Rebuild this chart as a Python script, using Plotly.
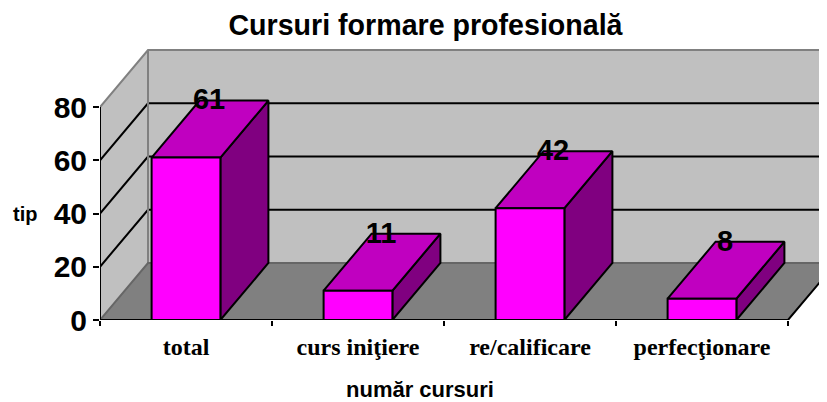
import plotly.graph_objects as go

categories = ["total", "curs iniţiere", "re/calificare", "perfecţionare"]
values = [61, 11, 42, 8]
y_ticks = [0, 20, 40, 60, 80]

title = "Cursuri formare profesională"
x_title = "număr cursuri"
y_title = "tip"

# oblique projection of the depth axis, in axis units
DX = 48 / 172
DY = 57 / 2.6625
BAR = 0.4
GAP = (1 - BAR) / 2
WALL = "#C0C0C0"; FLOOR = "#808080"; EDGE = "#808080"
FRONT = "#FF00FF"; TOP = "#C000C0"; SIDE = "#800080"
n = len(categories)
ymax = y_ticks[-1]

fig = go.Figure()


def poly(xs, ys, fill=None, line="black", w=2):
    fig.add_trace(go.Scatter(
        x=xs, y=ys, mode="lines", fill="toself" if fill else "none",
        fillcolor=fill, line=dict(color=line, width=w), cliponaxis=False,
        hoverinfo="skip", showlegend=False))


# walls and floor
poly([0, DX, DX, 0, 0], [0, DY, ymax + DY, ymax, 0], WALL, WALL, 0.5)
poly([DX, n + DX, n + DX, DX, DX], [DY, DY, ymax + DY, ymax + DY, DY], WALL, WALL, 0.5)
poly([0, n, n + DX, DX, 0], [0, 0, DY, DY, 0], FLOOR, FLOOR, 0.5)
# gridlines
for t in y_ticks[1:-1]:
    poly([0, DX, n + DX], [t, t + DY, t + DY])
# grey edges
poly([0, DX, n + DX], [ymax, ymax + DY, ymax + DY], None, EDGE, 2)
poly([DX, DX], [DY, ymax + DY], None, EDGE, 2)
poly([0, DX, n + DX], [0, DY, DY], None, "#666666", 2)
# axis edges
poly([0, 0], [0, ymax])
poly([0, n, n + DX], [0, 0, DY])

# bars
for i, v in enumerate(values):
    a, b = i + GAP, i + GAP + BAR
    poly([b, b + DX, b + DX, b, b], [0, DY, v + DY, v, 0], SIDE)
    poly([a, b, b + DX, a + DX, a], [v, v, v + DY, v + DY, v], TOP)
    poly([a, b, b, a, a], [0, 0, v, v, 0], FRONT)

# data labels
fig.add_trace(go.Scatter(
    x=[i + 0.5 + DX * 0.48 for i in range(n)],
    y=[v + DY - 0.6 for v in values],
    text=[str(v) for v in values],
    mode="text", textposition="middle center", cliponaxis=False,
    textfont=dict(family="Liberation Sans", size=29, color="black", weight="bold"),
    hoverinfo="skip", showlegend=False))

# the page sits 8px inside the window, so the figure is laid out 8px smaller
fig.update_layout(
    width=819, height=394, autosize=False,
    margin=dict(l=92, r=0, t=32, b=82),
    paper_bgcolor="white", plot_bgcolor="white",
    title=dict(text=f"<b>{title}</b>", x=417.5 / 819, xanchor="center", y=1 - 17 / 394,
               yanchor="middle",
               font=dict(family="Liberation Sans", size=28.6, color="black")),
    xaxis=dict(range=[0, 727 / 172], tickvals=[i + 0.5 for i in range(n)], ticktext=categories,
               ticks="", showgrid=False, zeroline=False, showline=False,
               ticklabelstandoff=10,
               tickfont=dict(family="Liberation Serif", size=24, color="black", weight="bold"),
               minor=dict(tickvals=list(range(n + 1)), ticks="outside", ticklen=5, tickwidth=2,
                          tickcolor="black", showgrid=False)),
    yaxis=dict(range=[0, 280 / 2.6625], tickvals=y_ticks, ticks="outside", ticklen=6, tickwidth=2,
               tickcolor="black", showgrid=False, zeroline=False, showline=False,
               tickfont=dict(family="Liberation Sans", size=30, color="black", weight="bold")),
    annotations=[
        dict(text=f"<b>{y_title}</b>", xref="paper", yref="paper", x=-75 / 727, y=(320 - 214) / 280,
             showarrow=False, xanchor="center", yanchor="middle",
             font=dict(family="Liberation Sans", size=20, color="black")),
        dict(text=f"<b>{x_title}</b>", xref="paper", yref="paper", x=(419.5 - 100) / 727,
             y=-(389 - 320) / 280, showarrow=False, xanchor="center", yanchor="middle", borderpad=0,
             font=dict(family="Liberation Sans", size=22, color="black")),
    ],
)
fig.write_html("out.html")
